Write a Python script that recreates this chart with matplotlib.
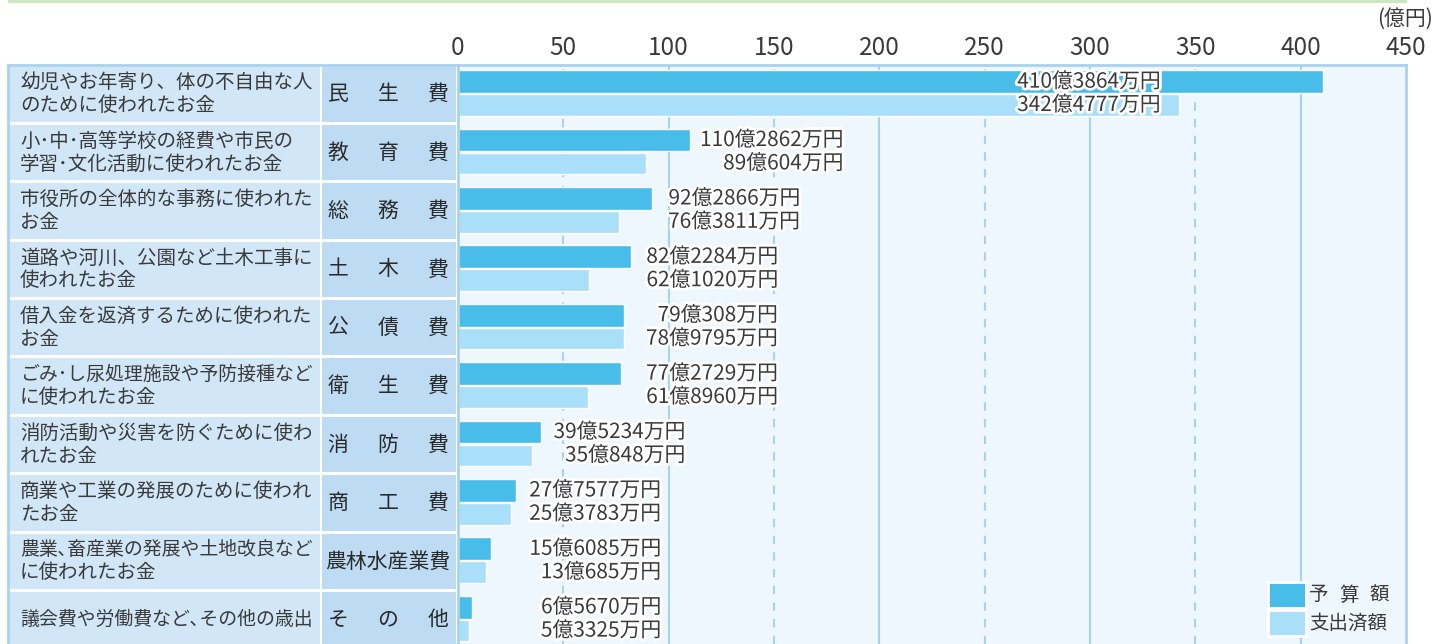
import matplotlib
matplotlib.use("Agg")
import matplotlib.pyplot as plt
import matplotlib.patheffects as pe
from matplotlib.patches import Rectangle
import numpy as np

plt.rcParams['font.family'] = ['Noto Sans CJK JP', 'DejaVu Sans']

# data (億円)
categories = ['民生費', '教育費', '総務費', '土木費', '公債費',
              '衛生費', '消防費', '商工費', '農林水産業費', 'その他']
descriptions = [
    '幼児やお年寄り、体の不自由な人\nのために使われたお金',
    '小･中･高等学校の経費や市民の\n学習･文化活動に使われたお金',
    '市役所の全体的な事務に使われた\nお金',
    '道路や河川、公園など土木工事に\n使われたお金',
    '借入金を返済するために使われた\nお金',
    'ごみ･し尿処理施設や予防接種など\nに使われたお金',
    '消防活動や災害を防ぐために使わ\nれたお金',
    '商業や工業の発展のために使われ\nたお金',
    '農業､畜産業の発展や土地改良など\nに使われたお金',
    '議会費や労働費など､その他の歳出',
]
budget = [410.3864, 110.2862, 92.2866, 82.2284, 79.0308,
          77.2729, 39.5234, 27.7577, 15.6085, 6.5670]
spent = [342.4777, 89.0604, 76.3811, 62.1020, 78.9795,
         61.8960, 35.0848, 25.3783, 13.0685, 5.3325]
budget_labels = ['410億3864万円', '110億2862万円', '92億2866万円', '82億2284万円',
                 '79億308万円', '77億2729万円', '39億5234万円', '27億7577万円',
                 '15億6085万円', '6億5670万円']
spent_labels = ['342億4777万円', '89億604万円', '76億3811万円', '62億1020万円',
                '78億9795万円', '61億8960万円', '35億848万円', '25億3783万円',
                '13億685万円', '5億3325万円']
legend_labels = ['予算額', '支出済額']
xticks = np.arange(0, 451, 50)

# layout: right edge of value labels (in 億円 on the x scale)
label_right = [333.6, 183, 162.5, 152, 152, 152, 108, 96.5, 96.5, 96.5]

W, H = 1448, 644
C_BUDGET = '#48bdea'
C_SPENT = '#a9dff9'
C_GRID = '#a9d2ef'
C_TEXT = '#3a3a3a'

fig = plt.figure(figsize=(W / 100, H / 100), dpi=100)
renderer = fig.canvas.get_renderer()

def fx(px):
    return px / W

def fy(py):
    return 1 - py / H

row_px = 58.4
top_px = 65
n_vis = (H - top_px) / row_px

# remnant of the table above
fig.add_artist(Rectangle((fx(8), fy(3)), fx(1399), 3 / H, transform=fig.transFigure,
                         facecolor='#cfe6bd', edgecolor='none'))

# --- bar area ---
ax = fig.add_axes([fx(458), 0, fx(1406 - 458), (H - top_px) / H])
ax.set_facecolor('#eef7fd')
ax.set_xlim(0, 450)
ax.set_ylim(n_vis, 0)

for v in xticks[1:-1]:
    if v % 100 == 0:
        ax.axvline(v, color=C_GRID, lw=1.5, zorder=1)
    else:
        ax.axvline(v, color=C_GRID, lw=1.5, ls=(0, (4, 4)), zorder=1)

y = np.arange(len(categories))
ax.barh(y + 0.285, budget, height=0.39, color=C_BUDGET, edgecolor='white', lw=1, zorder=2)
ax.barh(y + 0.685, spent, height=0.37, color=C_SPENT, edgecolor='white', lw=1, zorder=2)

halo = [pe.withStroke(linewidth=4, foreground='white')]
for i in range(len(categories)):
    ax.text(label_right[i], i + 0.285, budget_labels[i], ha='right', va='center',
            fontsize=15, color=C_TEXT, path_effects=halo, zorder=3)
    ax.text(label_right[i], i + 0.685, spent_labels[i], ha='right', va='center',
            fontsize=15, color=C_TEXT, path_effects=halo, zorder=3)

ax.xaxis.tick_top()
ax.set_xticks(xticks)
ax.set_xticklabels([str(v) for v in xticks])
ax.tick_params(axis='x', length=0, pad=3, labelsize=17.5, labelcolor=C_TEXT)
ax.set_yticks([])
for s in ['top', 'left', 'right']:
    ax.spines[s].set_color(C_GRID)
    ax.spines[s].set_linewidth(2)
ax.spines['bottom'].set_visible(False)

fig.text(fx(1433), fy(19), '(億円)', ha='right', va='center', fontsize=15, color=C_TEXT)

# --- left table ---
tb = fig.add_axes([fx(8), 0, fx(456 - 8), (H - top_px) / H])
tb.set_xlim(8, 456)
tb.set_ylim(n_vis, 0)
tb.set_facecolor('white')
tb.set_xticks([])
tb.set_yticks([])
for s in ['top', 'left']:
    tb.spines[s].set_color(C_GRID)
    tb.spines[s].set_linewidth(2)
for s in ['bottom', 'right']:
    tb.spines[s].set_visible(False)


def fit_text(x, yv, s, size=14, max_px=294):
    t = tb.text(x, yv, s, ha='left', va='center', fontsize=size, color=C_TEXT)
    w = t.get_window_extent(renderer).width
    if w > max_px:
        t.set_fontsize(size * max_px / w)
    return t


gap = 1.5 / row_px
for i in range(len(categories)):
    tb.add_patch(Rectangle((8, i + gap), 312, 1 - 2 * gap, facecolor='#d1e6f6', edgecolor='none'))
    tb.add_patch(Rectangle((322, i + gap), 134, 1 - 2 * gap, facecolor='#bddbf2', edgecolor='none'))
    lines = descriptions[i].split('\n')
    if len(lines) == 1:
        fit_text(20, i + 0.5, lines[0])
    else:
        fit_text(20, i + 0.5 - 11.5 / row_px, lines[0])
        fit_text(20, i + 0.5 + 11.5 / row_px, lines[1])
    cat = categories[i]
    if len(cat) == 3:
        for j, ch in enumerate(cat):
            tb.text(338 + 50 * j, i + 0.5, ch, ha='center', va='center', fontsize=15,
                    color='#2a2a2a')
    else:
        tb.text(388, i + 0.5, cat, ha='center', va='center', fontsize=15,
                color='#2a2a2a')

# --- legend ---
for k, (lab, col) in enumerate(zip(legend_labels, [C_BUDGET, C_SPENT])):
    y0 = 582 + 28 * k
    fig.add_artist(Rectangle((fx(1268), fy(y0 + 26)), fx(38), 26 / H, transform=fig.transFigure,
                             facecolor=col, edgecolor='white', lw=2))
    if len(lab) == 3:
        for j, ch in enumerate(lab):
            fig.text(fx(1319 + 30 * j), fy(y0 + 13), ch, ha='center', va='center',
                     fontsize=14, color=C_TEXT)
    else:
        fig.text(fx(1309), fy(y0 + 13), lab, ha='left', va='center', fontsize=14, color=C_TEXT)

fig.savefig('out.png', dpi=100)
